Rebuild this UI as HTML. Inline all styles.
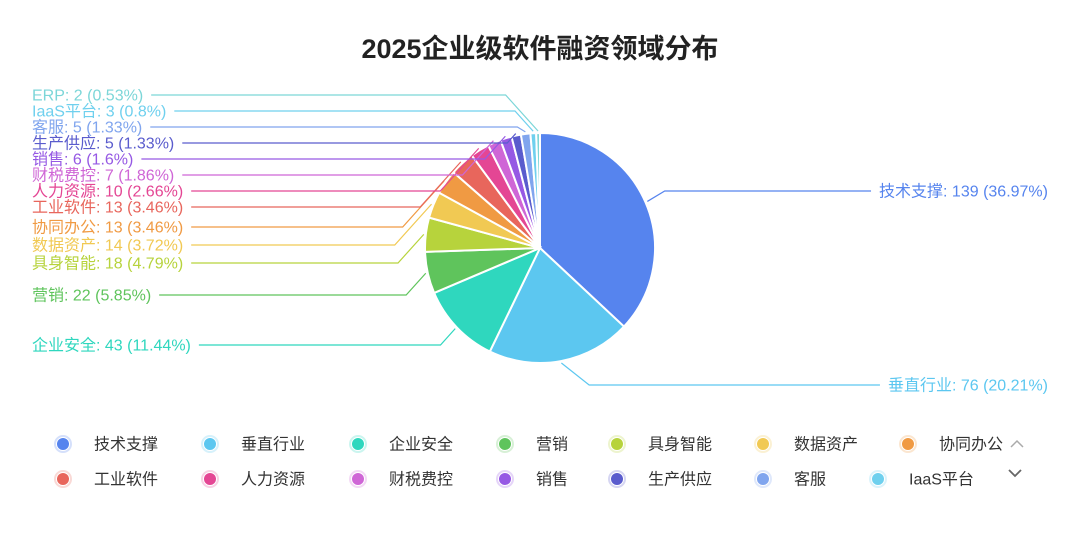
<!DOCTYPE html>
<html><head><meta charset="utf-8"><style>
html,body{margin:0;padding:0;background:#fff;width:1080px;height:535px;overflow:hidden}
svg text{font-family:"Liberation Sans","Noto Sans CJK SC",sans-serif}
</style></head><body>
<svg id="s" width="1080" height="535" xmlns="http://www.w3.org/2000/svg">
<text x="540" y="58" text-anchor="middle" font-size="27" font-weight="bold" fill="#222">2025企业级软件融资领域分布</text>
<g id="pie"></g><g id="lab"></g><g id="leg"></g>
<path d="M1011 447 l6 -6 l6 6" fill="none" stroke="#aaa" stroke-width="1.5"/>
<path d="M1009 470 l6 6 l6 -6" fill="none" stroke="#666" stroke-width="1.8"/>
</svg>
<script>
const NS="http://www.w3.org/2000/svg";
const D=[["技术支撑",139,"36.97%","#5684ee"],["垂直行业",76,"20.21%","#5cc7f0"],["企业安全",43,"11.44%","#2fd7be"],["营销",22,"5.85%","#5fc45c"],["具身智能",18,"4.79%","#b7d33c"],["数据资产",14,"3.72%","#f1c953"],["协同办公",13,"3.46%","#f09a43"],["工业软件",13,"3.46%","#e8665c"],["人力资源",10,"2.66%","#e44694"],["财税费控",7,"1.86%","#cf66d6"],["销售",6,"1.6%","#9659e4"],["生产供应",5,"1.33%","#5a5ccd"],["客服",5,"1.33%","#80a5ee"],["IaaS平台",3,"0.8%","#6fd0ee"],["ERP",2,"0.53%","#7cd6d8"]];
const LY={"技术支撑":191,"垂直行业":385,"企业安全":345,"营销":295,"具身智能":263,"数据资产":245,"协同办公":227,"工业软件":207,"人力资源":191,"财税费控":175,"销售":159,"生产供应":143,"客服":127,"IaaS平台":111,"ERP":95};
const cx=540,cy=248,R=115,tot=376,FS=16;
function el(t,a,p){const e=document.createElementNS(NS,t);for(const k in a)e.setAttribute(k,a[k]);(p||document.getElementById('s')).appendChild(e);return e}
function pt(a,r){return [cx+r*Math.sin(a),cy-r*Math.cos(a)]}
let a0=0;const pie=document.getElementById('pie'),lab=document.getElementById('lab');
D.forEach(d=>{const a1=a0+d[1]/tot*2*Math.PI;const p0=pt(a0,R),p1=pt(a1,R);
el('path',{d:`M${cx} ${cy}L${p0[0]} ${p0[1]}A${R} ${R} 0 ${a1-a0>Math.PI?1:0} 1 ${p1[0]} ${p1[1]}Z`,fill:d[3],stroke:'#fff','stroke-width':2},pie);
const am=(a0+a1)/2,q=pt(am,R+2),y=LY[d[0]];
const txt=`${d[0]}: ${d[1]} (${d[2]})`;
if(q[0]>cx){const t=el('text',{x:1048,y:y+5.5,'text-anchor':'end','font-size':FS,fill:d[3]},lab);t.textContent=txt;
 const w=t.getComputedTextLength();const bx=q[0]+Math.abs(q[1]-y)*0.9+8;
 el('polyline',{points:`${q[0]},${q[1]} ${bx},${y} ${1048-w-8},${y}`,fill:'none',stroke:d[3],'stroke-width':1.2},lab);}
else{const t=el('text',{x:32,y:y+5.5,'font-size':FS,fill:d[3]},lab);t.textContent=txt;
 const w=t.getComputedTextLength();const bx=q[0]-Math.max(Math.abs(q[1]-y)*0.9,8);
 el('polyline',{points:`${q[0]},${q[1]} ${bx},${y} ${32+w+8},${y}`,fill:'none',stroke:d[3],'stroke-width':1.2},lab);}
a0=a1;});
const leg=document.getElementById('leg');
const X1=[63,210,358,505,617,763,908],X2=[63,210,358,505,617,763,878];
D.slice(0,14).forEach((d,i)=>{const r=Math.floor(i/7),c=i%7;const x=(r?X2:X1)[c],y=r?479:444;
el('circle',{cx:x,cy:y,r:8,fill:'none',stroke:d[3],'stroke-opacity':0.25,'stroke-width':2},leg);
el('circle',{cx:x,cy:y,r:6,fill:d[3]},leg);
const t=el('text',{x:x+31,y:y+5.5,'font-size':16,fill:'#333'},leg);t.textContent=d[0];});
</script>
</body></html>
